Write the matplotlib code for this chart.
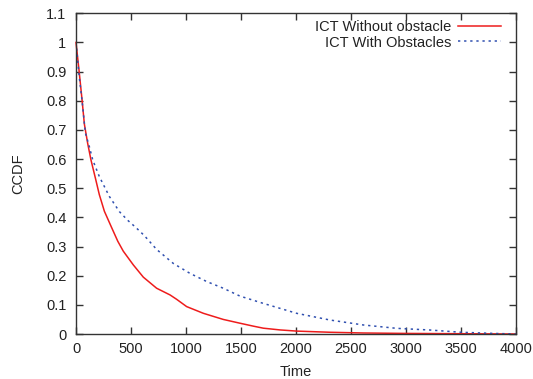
import matplotlib
matplotlib.use("Agg")
import matplotlib.pyplot as plt

plt.rcParams['font.family'] = ['Liberation Sans', 'DejaVu Sans']

# Data
t_red = [0, 27, 55, 76, 106, 136, 176, 212, 258, 318, 380, 430, 521, 612, 733, 855,
         915, 1006, 1158, 1339, 1491, 1612, 1703, 1855, 2006, 2309, 2612, 3000, 3500, 4000]
ccdf_red = [1.0, 0.906, 0.803, 0.72, 0.654, 0.597, 0.535, 0.478, 0.421, 0.37, 0.318,
            0.284, 0.237, 0.195, 0.157, 0.134, 0.119, 0.094, 0.071, 0.050, 0.037, 0.027,
            0.020, 0.014, 0.010, 0.006, 0.0035, 0.002, 0.001, 0.0]

t_blue = [0, 30, 55, 85, 121, 152, 212, 303, 394, 470, 545, 620, 733, 885, 1036, 1188,
          1339, 1491, 1703, 1855, 2006, 2309, 2612, 2915, 3218, 3500, 3800, 4000]
ccdf_blue = [1.0, 0.88, 0.80, 0.69, 0.643, 0.597, 0.54, 0.472, 0.42, 0.39, 0.365,
             0.338, 0.29, 0.242, 0.208, 0.18, 0.157, 0.13, 0.105, 0.088, 0.071, 0.048,
             0.031, 0.0195, 0.0137, 0.006, 0.002, 0.0]

labels = ["ICT Without obstacle", "ICT With Obstacles"]
xticks = [0, 500, 1000, 1500, 2000, 2500, 3000, 3500, 4000]
yticks = [0, 0.1, 0.2, 0.3, 0.4, 0.5, 0.6, 0.7, 0.8, 0.9, 1, 1.1]
ytick_labels = ["0", "0.1", "0.2", "0.3", "0.4", "0.5", "0.6", "0.7", "0.8", "0.9", "1", "1.1"]

fig = plt.figure(figsize=(5.33, 3.79), dpi=100)
ax = fig.add_axes([0.1426, 0.1187, 0.8254, 0.8463])

ax.plot(t_red, ccdf_red, color='#ee1c1c', lw=1.1, label=labels[0], clip_on=False)
ax.plot(t_blue, ccdf_blue, color='#3050b0', lw=1.1, linestyle=(0, (1.5, 2.5)), label=labels[1])

ax.set_xlim(0, 4000)
ax.set_ylim(0, 1.1)
ax.set_xticks(xticks)
ax.set_xticklabels([str(x) for x in xticks])
ax.set_yticks(yticks)
ax.set_yticklabels(ytick_labels)

for s in ax.spines.values():
    s.set_color('#333333')
    s.set_linewidth(1.0)
ax.tick_params(direction='in', length=5, width=1, color='#333333', labelcolor='#222222',
               labelsize=10.5, top=True, right=True)
ax.tick_params(axis='x', pad=5.5)
ax.tick_params(axis='y', pad=7)

ax.set_xlabel("Time", fontsize=10.5, color='#222222', labelpad=7)
ax.set_ylabel("CCDF", fontsize=10.5, color='#222222', labelpad=15)

leg = ax.legend(loc='upper right', frameon=False, fontsize=10.5, markerfirst=False,
                handlelength=3.0, handletextpad=0.45, borderaxespad=0.0, labelspacing=0.1,
                bbox_to_anchor=(0.98, 0.997))
for txt in leg.get_texts():
    txt.set_ha('right')
    txt.set_color('#222222')

fig.savefig("out.png", dpi=100)
